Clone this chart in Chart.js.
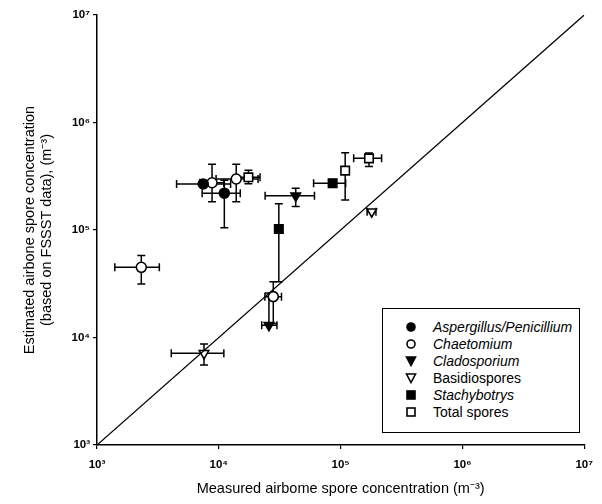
<!DOCTYPE html>
<html>
<head>
<meta charset="utf-8">
<script src="https://cdn.jsdelivr.net/npm/chart.js@4.4.1/dist/chart.umd.min.js"></script>
<style>
  body { margin: 0; background: #fff; }
  #wrap { position: relative; width: 602px; height: 504px; }
  #legend {
    position: absolute; left: 382px; top: 308px; width: 196px; height: 123px;
    border: 1.5px solid #000; background: #fff;
    font-family: 'Liberation Sans', Arial, sans-serif; font-size: 14px; color: #000;
  }
  #legend .row { position: absolute; left: 0; height: 16px; line-height: 16px; white-space: nowrap; }
  #legend svg { position: absolute; left: 22px; top: 2px; }
  #legend span { position: absolute; left: 50px; top: 0; }
  #legend i { font-style: italic; }
</style>
</head>
<body>
<div id="wrap">
  <canvas id="sporeChart" width="602" height="504"></canvas>
  <div id="legend"></div>
</div>
<script>
// each row: [x, y, xLow, xHigh, yLow, yHigh]  (null = no bar)
const aspergillus = [
  [7450, 268000, 4500, 12500, null, null],
  [11100, 220000, 7300, 15000, 105000, 290000]
];
const chaetomium = [
  [8800, 275000, 7000, 11000, 183000, 410000],
  [13900, 298000, 9500, 21000, 183000, 410000],
  [2310, 45000, 1400, 3250, 31500, 58000],
  [28000, 24000, 23900, 32700, 13500, 33000]
];
const cladosporium = [
  [42800, 208000, 24000, 61000, 165000, 244000],
  [25800, 13000, 22500, 30000, null, 26000]
];
const basidiospores = [
  [7560, 7130, 4070, 11000, 5550, 8700],
  [180000, 148000, 165000, 195000, null, null]
];
const stachybotrys = [
  [31100, 102000, null, null, 33000, 175000],
  [86000, 272000, 60000, 110000, 250000, 295000]
];
const totalSpores = [
  [109000, 357000, null, null, 190000, 524000],
  [171000, 464000, 128000, 217000, 390000, 520000],
  [17500, 309000, 14000, 21800, 270000, 360000]
];
const oneToOne = [1e3, 1e7];
const decades = [1e3, 1e4, 1e5, 1e6, 1e7];
const decadeLabels = ['10³', '10⁴', '10⁵', '10⁶', '10⁷'];

const legendItems = [
  { name: 'Aspergillus/Penicillium', italic: true, shape: 'circle', filled: true },
  { name: 'Chaetomium', italic: true, shape: 'circle', filled: false },
  { name: 'Cladosporium', italic: true, shape: 'tri', filled: true },
  { name: 'Basidiospores', italic: false, shape: 'tri', filled: false },
  { name: 'Stachybotrys', italic: true, shape: 'rect', filled: true },
  { name: 'Total spores', italic: false, shape: 'rect', filled: false }
];

function series(label, rows, style, radius, filled) {
  return {
    label,
    data: rows.map(r => ({ x: r[0], y: r[1] })),
    errors: rows.map(r => r.slice(2)),
    pointStyle: style,
    rotation: style === 'triangle' ? 180 : 0,
    pointRadius: radius,
    pointBorderWidth: 1.6,
    borderColor: '#000',
    backgroundColor: filled ? '#000' : '#fff',
    showLine: false
  };
}

const errorBars = {
  id: 'errorBars',
  beforeDatasetsDraw(chart) {
    const { ctx, scales: { x, y } } = chart;
    const cap = 4;
    ctx.save();
    ctx.strokeStyle = '#000';
    ctx.lineWidth = 1.5;
    chart.data.datasets.forEach(ds => {
      if (!ds.errors) return;
      ds.data.forEach((p, i) => {
        const [xl, xh, yl, yh] = ds.errors[i];
        const px = x.getPixelForValue(p.x);
        const py = y.getPixelForValue(p.y);
        ctx.beginPath();
        [xl, xh].forEach(v => {
          if (v == null) return;
          const e = x.getPixelForValue(v);
          ctx.moveTo(px, py); ctx.lineTo(e, py);
          ctx.moveTo(e, py - cap); ctx.lineTo(e, py + cap);
        });
        [yl, yh].forEach(v => {
          if (v == null) return;
          const e = y.getPixelForValue(v);
          ctx.moveTo(px, py); ctx.lineTo(px, e);
          ctx.moveTo(px - cap, e); ctx.lineTo(px + cap, e);
        });
        ctx.stroke();
      });
    });
    ctx.restore();
  }
};

Chart.defaults.font.family = "'Liberation Sans', Arial, sans-serif";
Chart.defaults.color = '#000';

const logAxis = (title, isY) => ({
  type: 'logarithmic',
  min: 1e3,
  max: 1e7,
  afterBuildTicks: s => { s.ticks = decades.map(v => ({ value: v })); },
  afterFit: s => { if (isY) s.width = 97; else s.height = 59; },
  ticks: {
    autoSkip: false,
    maxRotation: 0,
    padding: isY ? 3 : 9,
    font: { size: 11.5, weight: 'bold' },
    color: '#000',
    callback: v => decadeLabels[decades.indexOf(v)] || ''
  },
  grid: { drawOnChartArea: false, drawTicks: true, tickLength: 4, color: '#000', lineWidth: 1.2 },
  border: { display: true, color: '#000', width: 1.5 },
  title: {
    display: true,
    text: title,
    font: { size: 14.5 },
    color: '#000',
    padding: isY ? { top: 21, bottom: 0 } : { top: 0, bottom: 6 }
  }
});

new Chart(document.getElementById('sporeChart'), {
  type: 'scatter',
  data: {
    datasets: [
      {
        label: '1:1',
        data: oneToOne.map(v => ({ x: v, y: v })),
        showLine: true,
        borderColor: '#000',
        borderWidth: 1.3,
        pointRadius: 0
      },
      series('Aspergillus/Penicillium', aspergillus, 'circle', 5, true),
      series('Chaetomium', chaetomium, 'circle', 5, false),
      series('Cladosporium', cladosporium, 'triangle', 5.5, true),
      series('Basidiospores', basidiospores, 'triangle', 5.5, false),
      series('Stachybotrys', stachybotrys, 'rect', 6, true),
      series('Total spores', totalSpores, 'rect', 6, false)
    ]
  },
  options: {
    responsive: false,
    animation: false,
    layout: { padding: { top: 15, right: 13, left: 0, bottom: 0 } },
    plugins: { legend: { display: false }, tooltip: { enabled: false } },
    scales: {
      x: logAxis('Measured airbome spore concentration (m⁻³)', false),
      y: logAxis(['Estimated airbone spore concentration', '(based on FSSST data), (m⁻³)'], true)
    }
  },
  plugins: [errorBars]
});

// legend with mixed italic / upright names
const legendEl = document.getElementById('legend');
legendItems.forEach((item, i) => {
  const row = document.createElement('div');
  row.className = 'row';
  row.style.top = (10 + i * 17) + 'px';
  const fill = item.filled ? '#000' : '#fff';
  let shape = '';
  if (item.shape === 'circle') shape = `<circle cx="6" cy="6" r="4" fill="${fill}" stroke="#000" stroke-width="1.6"/>`;
  if (item.shape === 'tri') shape = `<polygon points="1.5,2 10.5,2 6,10.5" fill="${fill}" stroke="#000" stroke-width="1.6"/>`;
  if (item.shape === 'rect') shape = `<rect x="2" y="2" width="8" height="8" fill="${fill}" stroke="#000" stroke-width="1.6"/>`;
  const name = item.italic ? `<i>${item.name}</i>` : item.name;
  row.innerHTML = `<svg width="12" height="12">${shape}</svg><span>${name}</span>`;
  legendEl.appendChild(row);
});
</script>
</body>
</html>
